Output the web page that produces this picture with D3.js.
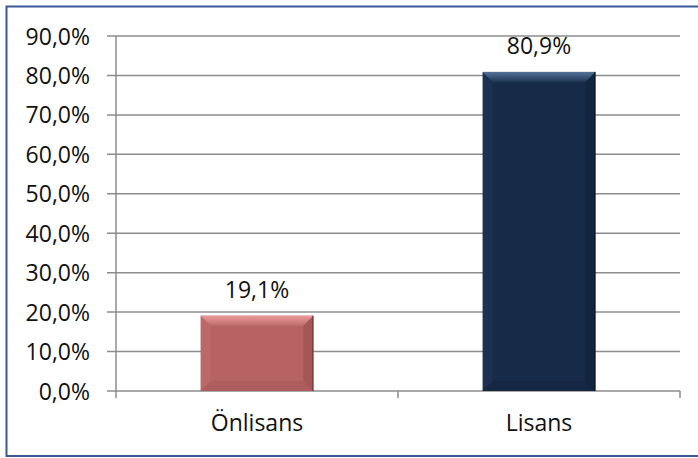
<!DOCTYPE html>
<html>
<head>
<meta charset="utf-8">
<script src="https://cdn.jsdelivr.net/npm/d3@7"></script>
<style>
  body { margin: 0; background: #fff; }
  text { font-family: "Open Sans", "Liberation Sans", Arial, sans-serif; fill: #111; }
</style>
</head>
<body>
<svg width="698" height="458"></svg>
<script>
// data
var categories = ["Önlisans", "Lisans"];
var values = [19.1, 80.9];
var yTicks = [0, 10, 20, 30, 40, 50, 60, 70, 80, 90];
var barColors = ["#b76364", "#172b48"];
var lightColors = ["#f0a0a2", "#5a7aa0"];
var darkColors = ["#6e2f30", "#08121f"];

var svg = d3.select("svg"),
    margin = {top: 36, right: 18, bottom: 67, left: 116},
    width = +svg.attr("width") - margin.left - margin.right,
    height = +svg.attr("height") - margin.top - margin.bottom;

// outer frame
svg.append("rect")
    .attr("x", 6.5).attr("y", 6.5)
    .attr("width", 710).attr("height", 449.5)
    .attr("fill", "none")
    .attr("stroke", "#3b5998")
    .attr("stroke-width", 2);

// gradients for bevel top
var defs = svg.append("defs");
barColors.forEach(function(c, i) {
  var gr = defs.append("linearGradient").attr("id", "top" + i)
      .attr("x1", 0).attr("y1", 0).attr("x2", 0).attr("y2", 1);
  gr.append("stop").attr("offset", "0%").attr("stop-color", lightColors[i]).attr("stop-opacity", 0.9);
  gr.append("stop").attr("offset", "100%").attr("stop-color", lightColors[i]).attr("stop-opacity", 0.15);
});

var g = svg.append("g").attr("transform", "translate(" + margin.left + "," + margin.top + ")");

var x = d3.scaleBand().domain(categories).range([0, width]).paddingInner(0.6).paddingOuter(0.3);
var y = d3.scaleLinear().domain([0, 90]).range([height, 0]);
var fmt = function(d) { return d.toFixed(1).replace(".", ",") + "%"; };

// gridlines
g.append("g").selectAll("line").data(yTicks).enter().append("line")
    .attr("x1", -9).attr("x2", width)
    .attr("y1", function(d) { return y(d); })
    .attr("y2", function(d) { return y(d); })
    .attr("stroke", "#8c8c8c").attr("stroke-width", 1.5);

// y axis
var yAxis = g.append("g")
    .call(d3.axisLeft(y).tickValues(yTicks).tickSize(0).tickPadding(26).tickFormat(fmt));
yAxis.select(".domain").remove();
yAxis.selectAll("text").style("font-size", "23px").attr("dy", "0.35em");
g.append("line")
    .attr("x1", 0).attr("x2", 0).attr("y1", 0).attr("y2", height + 7)
    .attr("stroke", "#8c8c8c").attr("stroke-width", 1.5);

// x axis ticks (between categories)
var xTickPos = [0, width / 2, width];
g.append("g").selectAll("line").data(xTickPos.slice(1)).enter().append("line")
    .attr("x1", function(d) { return d; }).attr("x2", function(d) { return d; })
    .attr("y1", height).attr("y2", height + 7)
    .attr("stroke", "#8c8c8c").attr("stroke-width", 1.5);

var xAxis = g.append("g")
    .attr("transform", "translate(0," + height + ")")
    .call(d3.axisBottom(x).tickSize(0).tickPadding(24));
xAxis.select(".domain").remove();
xAxis.selectAll("text").style("font-size", "23px");

// bars with bevel
var bev = 10;
var bars = g.selectAll(".bar").data(values).enter().append("g").attr("class", "bar");
bars.each(function(d, i) {
  var b = d3.select(this),
      x0 = x(categories[i]), x1 = x0 + x.bandwidth(),
      y0 = y(d), y1 = y(0);
  b.append("rect")
      .attr("x", x0).attr("y", y0)
      .attr("width", x1 - x0).attr("height", y1 - y0)
      .attr("fill", barColors[i]);
  // top
  b.append("polygon")
      .attr("points", [[x0, y0], [x1, y0], [x1 - bev, y0 + bev], [x0 + bev, y0 + bev]].join(" "))
      .attr("fill", "url(#top" + i + ")");
  // left
  b.append("polygon")
      .attr("points", [[x0, y0], [x0 + bev, y0 + bev], [x0 + bev, y1 - bev], [x0, y1]].join(" "))
      .attr("fill", lightColors[i]).attr("opacity", 0.08);
  // right
  b.append("polygon")
      .attr("points", [[x1, y0], [x1 - bev, y0 + bev], [x1 - bev, y1 - bev], [x1, y1]].join(" "))
      .attr("fill", darkColors[i]).attr("opacity", 0.25);
  // bottom
  b.append("polygon")
      .attr("points", [[x0, y1], [x0 + bev, y1 - bev], [x1 - bev, y1 - bev], [x1, y1]].join(" "))
      .attr("fill", darkColors[i]).attr("opacity", 0.12);
  b.append("line")
      .attr("x1", x1 - 0.5).attr("x2", x1 - 0.5).attr("y1", y0).attr("y2", y1)
      .attr("stroke", darkColors[i]).attr("stroke-width", 1);
});

// value labels
g.selectAll(".label").data(values).enter().append("text")
    .attr("x", function(d, i) { return x(categories[i]) + x.bandwidth() / 2; })
    .attr("y", function(d) { return y(d) - 18; })
    .attr("text-anchor", "middle")
    .style("font-size", "23px")
    .text(fmt);
</script>
</body>
</html>
